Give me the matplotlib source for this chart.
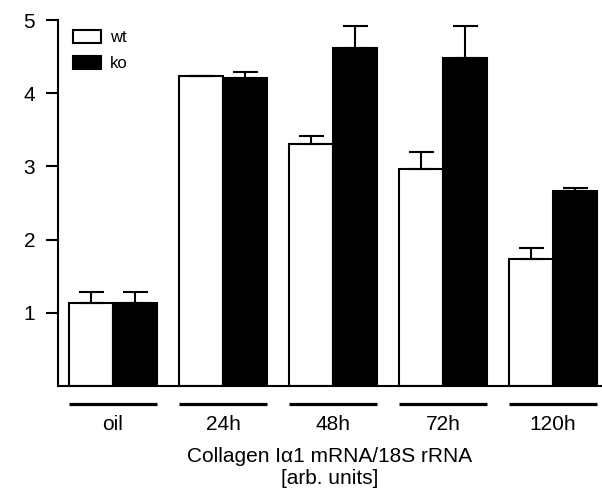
import numpy as np
import matplotlib
matplotlib.use("Agg")
import matplotlib.pyplot as plt
import matplotlib.transforms as mtransforms

plt.rcParams["font.family"] = ["Liberation Sans", "DejaVu Sans"]

# values
groups = ["oil", "24h", "48h", "72h", "120h"]
wt_mean = [1.14, 4.24, 3.31, 2.96, 1.74]
wt_err = [0.15, 0.0, 0.10, 0.23, 0.15]
ko_mean = [1.14, 4.21, 4.62, 4.48, 2.66]
ko_err = [0.15, 0.08, 0.30, 0.44, 0.04]

fig = plt.figure(figsize=(6.02, 4.91), dpi=100)
ax = fig.add_axes([58 / 602, 1 - 386 / 491, 544 / 602, 366 / 491])

x = np.arange(len(groups))
w = 0.4
err_style = dict(elinewidth=1.5, capthick=1.5, capsize=9, ecolor="black")

ax.bar(x - w / 2, wt_mean, w, color="white", edgecolor="black", linewidth=1.5,
       yerr=[np.zeros(len(groups)), wt_err], error_kw=err_style, label="wt")
ax.bar(x + w / 2, ko_mean, w, color="black", edgecolor="black", linewidth=1.5,
       yerr=[np.zeros(len(groups)), ko_err], error_kw=err_style, label="ko")

ax.set_xlim(-0.5, 4.445)
ax.set_ylim(0, 5)
ax.set_yticks([1, 2, 3, 4, 5])
ax.tick_params(axis="y", length=8.5, width=1.5, labelsize=15, pad=8)
ax.set_xticks(x)
ax.set_xticklabels(groups)
ax.tick_params(axis="x", length=0, labelsize=15, pad=21)

for side in ["top", "right"]:
    ax.spines[side].set_visible(False)
for side in ["left", "bottom"]:
    ax.spines[side].set_linewidth(1.5)

# group underlines below the axis
trans = mtransforms.blended_transform_factory(ax.transData, ax.transAxes)
for xi in x:
    ax.plot([xi - w, xi + w], [-18 / 366, -18 / 366], color="black", lw=2.3,
            transform=trans, clip_on=False, solid_capstyle="butt")

ax.set_xlabel("Collagen I\u03b11 mRNA/18S rRNA\n[arb. units]", fontsize=15,
              linespacing=1.2, labelpad=9)

ax.legend(loc="upper left", bbox_to_anchor=(0.0, 1.013), frameon=False,
          fontsize=12, handlelength=1.7, handleheight=0.8, labelspacing=0.65,
          handletextpad=0.5)

plt.savefig("out.png", dpi=100)
